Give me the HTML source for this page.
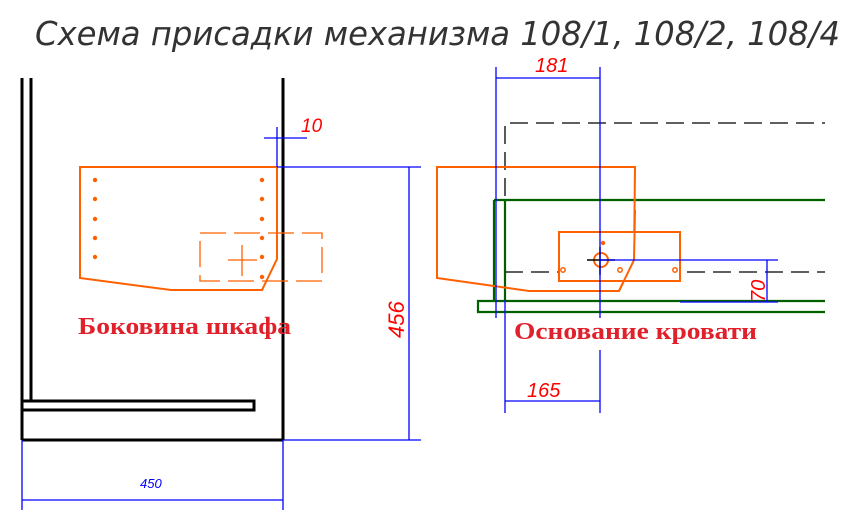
<!DOCTYPE html>
<html><head><meta charset="utf-8"><style>
html,body{margin:0;padding:0;background:#fff;width:850px;height:520px;overflow:hidden}
svg{display:block}
</style></head><body>
<svg width="850" height="520" viewBox="0 0 850 520" xmlns="http://www.w3.org/2000/svg">
<text x="35" y="45" font-family="DejaVu Sans Condensed, DejaVu Sans, sans-serif" font-size="33" font-style="italic" fill="#333" textLength="805" lengthAdjust="spacingAndGlyphs">Схема присадки механизма 108/1, 108/2, 108/4</text>

<g stroke="#000" stroke-width="3" fill="none">
<line x1="22" y1="78" x2="22" y2="440"/>
<line x1="31" y1="78" x2="31" y2="401"/>
<line x1="283" y1="78" x2="283" y2="440"/>
<line x1="22" y1="440" x2="283" y2="440"/>
<rect x="22" y="401" width="232" height="9"/>
</g>

<g stroke="#ff6000" fill="none">
<polygon points="80,167 277,167 277,259 262,290 171,290 80,278" stroke-width="2"/>
<rect x="200" y="233" width="122" height="48" stroke-width="1.3" stroke-dasharray="26,8"/>
<line x1="228" y1="260" x2="257" y2="260" stroke-width="1.3"/>
<line x1="242" y1="245" x2="242" y2="276" stroke-width="1.3"/>
</g>
<g fill="#ff6000">
<circle cx="95" cy="180" r="2.2"/><circle cx="95" cy="199" r="2.2"/><circle cx="95" cy="219" r="2.2"/><circle cx="95" cy="238" r="2.2"/><circle cx="95" cy="257" r="2.2"/>
<circle cx="262" cy="180" r="2.2"/><circle cx="262" cy="199" r="2.2"/><circle cx="262" cy="219" r="2.2"/><circle cx="262" cy="238" r="2.2"/><circle cx="262" cy="257" r="2.2"/><circle cx="262" cy="277" r="2.2"/>
</g>

<g stroke="#0000ff" stroke-width="1.3" fill="none">
<line x1="277" y1="127" x2="277" y2="167"/>
<line x1="264" y1="138" x2="307" y2="138"/>
<line x1="277" y1="167" x2="421" y2="167"/>
<line x1="409" y1="167" x2="409" y2="440"/>
<line x1="283" y1="440" x2="421" y2="440"/>
<line x1="22" y1="440" x2="22" y2="510"/>
<line x1="283" y1="440" x2="283" y2="510"/>
<line x1="22" y1="500" x2="283" y2="500"/>
</g>
<text x="301" y="132" font-family="Liberation Sans, sans-serif" font-style="italic" font-size="19" fill="#ff0000">10</text>
<text transform="translate(404,338) rotate(-90)" font-family="Liberation Sans, sans-serif" font-style="italic" font-size="22" fill="#ff0000">456</text>
<text x="140" y="488" font-family="Liberation Sans, sans-serif" font-style="italic" font-size="13" fill="#0000ff">450</text>
<text x="78" y="334" font-family="Liberation Serif, serif" font-weight="bold" font-size="24" fill="#e0202a" textLength="213" lengthAdjust="spacingAndGlyphs">Боковина шкафа</text>

<g stroke="#000" stroke-width="1.3" fill="none" stroke-dasharray="18,8">
<polyline points="505,222 505,123 825,123"/>
<line x1="505" y1="272" x2="825" y2="272"/>
</g>
<g stroke="#006000" stroke-width="2.2" fill="none">
<line x1="494" y1="200" x2="825" y2="200"/>
<line x1="494" y1="200" x2="494" y2="301"/>
<line x1="505" y1="200" x2="505" y2="301"/>
<polyline points="825,301 478,301 478,312 825,312"/>
</g>
<g stroke="#ff6000" fill="none" stroke-width="2">
<polygon points="437,167 635,167 634,260 619,291 529,291 437,278"/>
<rect x="559" y="232" width="121" height="49" fill="#fff"/>
<polyline points="635,210 634,260 619,291" />
<circle cx="601" cy="260" r="7"/>
<circle cx="563" cy="270" r="2.2" stroke-width="1.5"/><circle cx="620" cy="270" r="2.2" stroke-width="1.5"/><circle cx="675" cy="270" r="2.2" stroke-width="1.5"/>
</g>
<circle cx="603" cy="243" r="2.2" fill="#ff6000"/>
<g stroke="#000" stroke-width="1.5"><line x1="587" y1="260" x2="615" y2="260"/><line x1="600" y1="247" x2="600" y2="275"/></g>
<g stroke="#0000ff" stroke-width="1.3" fill="none">
<line x1="496" y1="67" x2="496" y2="318"/>
<line x1="600" y1="67" x2="600" y2="318"/>
<line x1="600" y1="350" x2="600" y2="413"/>
<line x1="496" y1="78" x2="600" y2="78"/>
<line x1="600" y1="260" x2="778" y2="260"/>
<line x1="767" y1="260" x2="767" y2="302"/>
<line x1="680" y1="302" x2="778" y2="302"/>
<line x1="505" y1="300" x2="505" y2="413"/>
<line x1="505" y1="401" x2="600" y2="401"/>
</g>
<text x="535" y="72" font-family="Liberation Sans, sans-serif" font-style="italic" font-size="20" fill="#ff0000">181</text>
<text transform="translate(765,302) rotate(-90)" font-family="Liberation Sans, sans-serif" font-style="italic" font-size="20" fill="#ff0000">70</text>
<text x="527" y="397" font-family="Liberation Sans, sans-serif" font-style="italic" font-size="20" fill="#ff0000">165</text>
<text x="514" y="339" font-family="Liberation Serif, serif" font-weight="bold" font-size="24" fill="#e0202a" textLength="243" lengthAdjust="spacingAndGlyphs">Основание кровати</text>
</svg>
</body></html>
